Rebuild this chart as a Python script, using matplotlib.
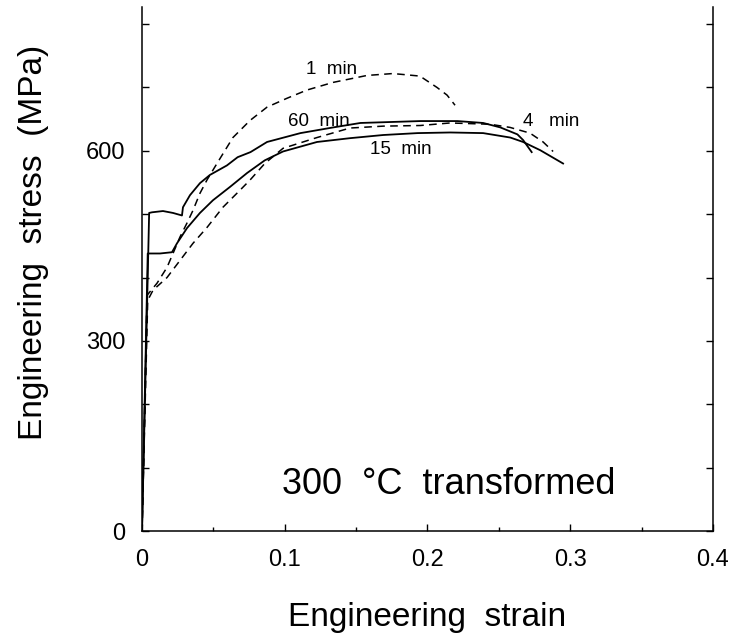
import numpy as np
import matplotlib
matplotlib.use("Agg")
import matplotlib.pyplot as plt
from matplotlib.ticker import MultipleLocator

plt.rcParams['font.family'] = ['Liberation Sans', 'DejaVu Sans']

# stress-strain curves, 300 C transformed, different holding times
strain_1min = [0.0, 0.0035, 0.0105, 0.0175, 0.0217, 0.0266, 0.0315, 0.0357, 0.0406, 0.0455,
               0.0525, 0.0637, 0.0757, 0.0876, 0.1016, 0.1156, 0.1338, 0.1576, 0.1758,
               0.1947, 0.2067, 0.2137, 0.2193]
stress_1min = [0, 372, 391, 416, 438, 464, 486, 506, 533, 554,
               580, 621, 648, 669, 683, 696, 708, 719, 722,
               718, 700, 688, 672]

strain_4min = [0.0, 0.004, 0.0077, 0.0175, 0.0266, 0.0357, 0.0455, 0.0567, 0.0687, 0.0757,
               0.086, 0.0988, 0.1226, 0.1457, 0.169, 0.195, 0.2158, 0.2438, 0.2578,
               0.2718, 0.281, 0.288]
stress_4min = [0, 364, 380, 400, 427, 454, 479, 511, 538, 554,
               580, 604, 621, 636, 639, 640, 644, 642, 637,
               628, 614, 599]

strain_15min = [0.0, 0.004, 0.0056, 0.0126, 0.021, 0.0245, 0.0315, 0.0406, 0.0497, 0.0616,
                0.0736, 0.086, 0.0988, 0.1226, 0.1457, 0.169, 0.193, 0.216, 0.239,
                0.258, 0.267, 0.279, 0.295]
stress_15min = [0, 438, 438, 438, 440, 454, 478, 502, 522, 543,
                565, 585, 599, 614, 620, 625, 628, 629, 628,
                621, 614, 601, 580]

strain_60min = [0.0, 0.005, 0.007, 0.0147, 0.0217, 0.028, 0.0287, 0.0336, 0.0406, 0.0476,
                0.0595, 0.067, 0.076, 0.0876, 0.111, 0.134, 0.153, 0.195, 0.221,
                0.239, 0.251, 0.263, 0.267, 0.273]
stress_60min = [0, 502, 503, 505, 502, 498, 511, 530, 549, 562,
                577, 590, 598, 614, 628, 637, 644, 647, 647,
                644, 637, 626, 617, 598]

fig = plt.figure(figsize=(7.32, 6.38), dpi=100)
ax = fig.add_axes([0.194, 0.1677, 0.78, 0.8213])

dash = (0, (5, 3.5))
ax.plot(strain_1min, stress_1min, color='black', lw=1.1, linestyle=dash)
ax.plot(strain_4min, stress_4min, color='black', lw=1.1, linestyle=dash)
ax.plot(strain_15min, stress_15min, color='black', lw=1.3)
ax.plot(strain_60min, stress_60min, color='black', lw=1.3)

ax.text(0.115, 729, "1  min", fontsize=13.5, ha='left', va='center')
ax.text(0.102, 646, "60  min", fontsize=13.5, ha='left', va='center')
ax.text(0.160, 602, "15  min", fontsize=13.5, ha='left', va='center')
ax.text(0.267, 647, "4   min", fontsize=13.5, ha='left', va='center')
ax.text(0.098, 73, "300  °C  transformed", fontsize=26, ha='left', va='center')

ax.set_xlim(0, 0.4)
ax.set_ylim(0, 827)
ax.spines['top'].set_visible(False)
for s in ['left', 'right', 'bottom']:
    ax.spines[s].set_linewidth(1.1)

ax.xaxis.set_major_locator(MultipleLocator(0.1))
ax.xaxis.set_minor_locator(MultipleLocator(0.05))
ax.yaxis.set_major_locator(MultipleLocator(300))
ax.yaxis.set_minor_locator(MultipleLocator(100))
ax.xaxis.set_major_formatter(plt.FuncFormatter(lambda v, p: "0" if v == 0 else f"{v:.1f}"))

ax.tick_params(axis='x', which='major', direction='in', length=5, width=1, labelsize=17, pad=13)
ax.tick_params(axis='x', which='minor', direction='in', length=3, width=1)
ax.tick_params(axis='y', which='both', direction='in', length=5, width=1, right=True,
               labelsize=17, pad=12)

ax.set_xlabel("Engineering  strain", fontsize=24, labelpad=22)
ax.set_ylabel("Engineering  stress  (MPa)", fontsize=24, va='center')
ax.yaxis.set_label_coords(-0.19, 0.55)

fig.savefig("out.png", dpi=100)
